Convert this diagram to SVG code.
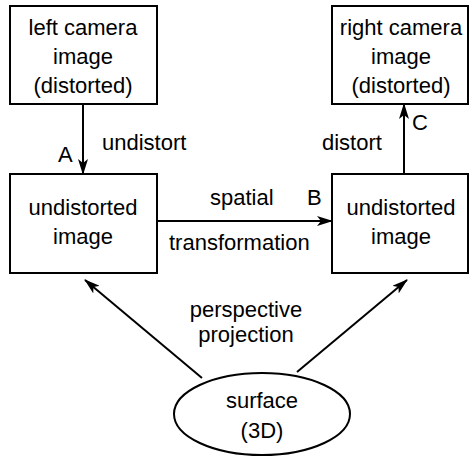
<svg xmlns="http://www.w3.org/2000/svg" width="470" height="456" viewBox="0 0 470 456">
<defs>
<marker id="ah" markerWidth="16" markerHeight="10" refX="15" refY="5" orient="auto" markerUnits="userSpaceOnUse">
<path d="M0,0 L16,5 L0,10 L4,5 Z" fill="#000"/>
</marker>
<style>
.box{fill:#fff;stroke:#000;stroke-width:2}
.t{font-family:"Liberation Sans",Arial,sans-serif;font-size:22px;fill:#000;text-anchor:middle}
.l{font-family:"Liberation Sans",Arial,sans-serif;font-size:22px;fill:#000}
.c{stroke:#000;stroke-width:2;fill:none;marker-end:url(#ah)}
</style>
</defs>
<rect width="470" height="456" fill="#fff"/>
<g id="connectors">
<line class="c" x1="83" y1="104" x2="83" y2="174"/>
<line class="c" x1="157" y1="221" x2="332" y2="221"/>
<line class="c" x1="404" y1="174" x2="404" y2="104"/>
<line class="c" x1="202" y1="378" x2="85" y2="280"/>
<line class="c" x1="297" y1="372" x2="407" y2="280"/>
<text class="l" x="102" y="150">undistort</text>
<text class="l" x="58" y="162">A</text>
<text class="l" x="210" y="205">spatial</text>
<text class="l" x="169" y="250">transformation</text>
<text class="l" x="307" y="205">B</text>
<text class="l" x="322" y="150">distort</text>
<text class="l" x="412" y="130">C</text>
<text class="t" x="246" y="317">perspective</text>
<text class="t" x="246" y="342">projection</text>
</g>
<g id="left-camera">
<rect class="box" x="10" y="6" width="147" height="98"/>
<text class="t" x="83" y="35">left camera</text>
<text class="t" x="83" y="64">image</text>
<text class="t" x="83" y="93">(distorted)</text>
</g>
<g id="right-camera">
<rect class="box" x="332" y="6" width="136" height="98"/>
<text class="t" x="401" y="35">right camera</text>
<text class="t" x="401" y="64">image</text>
<text class="t" x="401" y="93">(distorted)</text>
</g>
<g id="left-undistorted">
<rect class="box" x="10" y="174" width="147" height="99"/>
<text class="t" x="83" y="215">undistorted</text>
<text class="t" x="83" y="244">image</text>
</g>
<g id="right-undistorted">
<rect class="box" x="332" y="174" width="136" height="99"/>
<text class="t" x="401" y="215">undistorted</text>
<text class="t" x="401" y="244">image</text>
</g>
<g id="surface">
<ellipse cx="262" cy="414" rx="88" ry="41" fill="#fff" stroke="#000" stroke-width="2"/>
<text class="t" x="262" y="408">surface</text>
<text class="t" x="262" y="438">(3D)</text>
</g>
</svg>
